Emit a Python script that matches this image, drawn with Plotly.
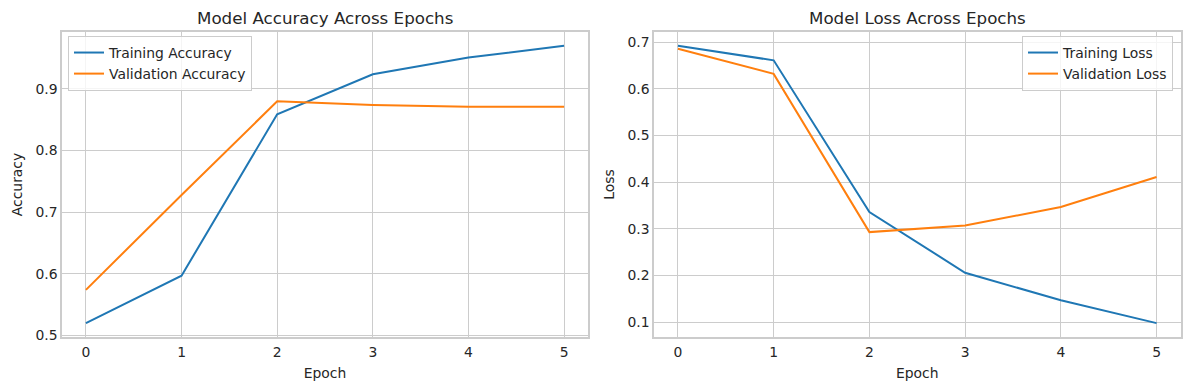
import plotly.graph_objects as go

epochs = [0, 1, 2, 3, 4, 5]
train_acc = [0.520, 0.597, 0.859, 0.924, 0.951, 0.970]
val_acc = [0.574, 0.728, 0.880, 0.874, 0.871, 0.871]
train_loss = [0.692, 0.661, 0.336, 0.206, 0.147, 0.098]
val_loss = [0.686, 0.632, 0.293, 0.307, 0.347, 0.411]

BLUE = "#1f77b4"
ORANGE = "#ff7f0e"
TEXT = "#262626"
GRID = "#cccccc"
FONT = "DejaVu Sans"

fig = go.Figure()
fig.add_trace(go.Scatter(x=epochs, y=train_acc, mode="lines", name="Training Accuracy",
                         line=dict(color=BLUE, width=2), xaxis="x", yaxis="y", legend="legend"))
fig.add_trace(go.Scatter(x=epochs, y=val_acc, mode="lines", name="Validation Accuracy",
                         line=dict(color=ORANGE, width=2), xaxis="x", yaxis="y", legend="legend"))
fig.add_trace(go.Scatter(x=epochs, y=train_loss, mode="lines", name="Training Loss",
                         line=dict(color=BLUE, width=2), xaxis="x2", yaxis="y2", legend="legend2"))
fig.add_trace(go.Scatter(x=epochs, y=val_loss, mode="lines", name="Validation Loss",
                         line=dict(color=ORANGE, width=2), xaxis="x2", yaxis="y2", legend="legend2"))

W, H = 1189, 390
def px_x(p):
    return p / W
def px_y(p):
    return 1 - p / H

axis_common = dict(showgrid=True, gridcolor=GRID, gridwidth=1, showline=True, linecolor=GRID,
                   linewidth=1.5, mirror=True, zeroline=False, ticks="", automargin=False,
                   tickfont=dict(family=FONT, size=13.9, color=TEXT))

def pad_range(vals, frac=0.05):
    lo, hi = min(vals), max(vals)
    d = (hi - lo) * frac
    return [lo - d, hi + d]

fig.update_layout(
    width=W, height=H,
    margin=dict(l=0, r=0, t=0, b=0, autoexpand=False),
    paper_bgcolor="white", plot_bgcolor="white",
    font=dict(family=FONT, color=TEXT),
    xaxis=dict(domain=[px_x(62), px_x(588)], anchor="y", range=pad_range(epochs), dtick=1,
               title=dict(text="Epoch", font=dict(family=FONT, size=13.9, color=TEXT), standoff=9),
               ticklabelstandoff=2, **axis_common),
    yaxis=dict(domain=[px_y(337), px_y(32)], anchor="x", range=pad_range(train_acc + val_acc),
               dtick=0.1, tickformat=".1f",
               title=dict(text="Accuracy", font=dict(family=FONT, size=13.9, color=TEXT), standoff=10),
               **axis_common),
    xaxis2=dict(domain=[px_x(654), px_x(1180.5)], anchor="y2", range=pad_range(epochs), dtick=1,
                title=dict(text="Epoch", font=dict(family=FONT, size=13.9, color=TEXT), standoff=9),
                ticklabelstandoff=2, **axis_common),
    yaxis2=dict(domain=[px_y(337), px_y(32)], anchor="x2", range=pad_range(train_loss + val_loss),
                dtick=0.1, tickformat=".1f",
                title=dict(text="Loss", font=dict(family=FONT, size=13.9, color=TEXT), standoff=10),
                **axis_common),
    legend=dict(x=px_x(68), y=px_y(36), xanchor="left", yanchor="top",
                bgcolor="rgba(255,255,255,0.8)", bordercolor=GRID, borderwidth=1,
                font=dict(family=FONT, size=13.9, color=TEXT), itemwidth=30, tracegroupgap=0),
    legend2=dict(x=px_x(1173), y=px_y(36), xanchor="right", yanchor="top",
                 bgcolor="rgba(255,255,255,0.8)", bordercolor=GRID, borderwidth=1,
                 font=dict(family=FONT, size=13.9, color=TEXT), itemwidth=30, tracegroupgap=0),
    annotations=[
        dict(text="Model Accuracy Across Epochs", x=(px_x(62) + px_x(588)) / 2, y=px_y(18),
             xref="paper", yref="paper", xanchor="center", yanchor="middle", showarrow=False,
             font=dict(family=FONT, size=16.7, color=TEXT)),
        dict(text="Model Loss Across Epochs", x=(px_x(654) + px_x(1180.5)) / 2, y=px_y(18),
             xref="paper", yref="paper", xanchor="center", yanchor="middle", showarrow=False,
             font=dict(family=FONT, size=16.7, color=TEXT)),
    ],
)

fig.write_html("out.html", config={"displayModeBar": False},
               post_script="document.body.style.margin='0';document.body.style.overflow='hidden';")
